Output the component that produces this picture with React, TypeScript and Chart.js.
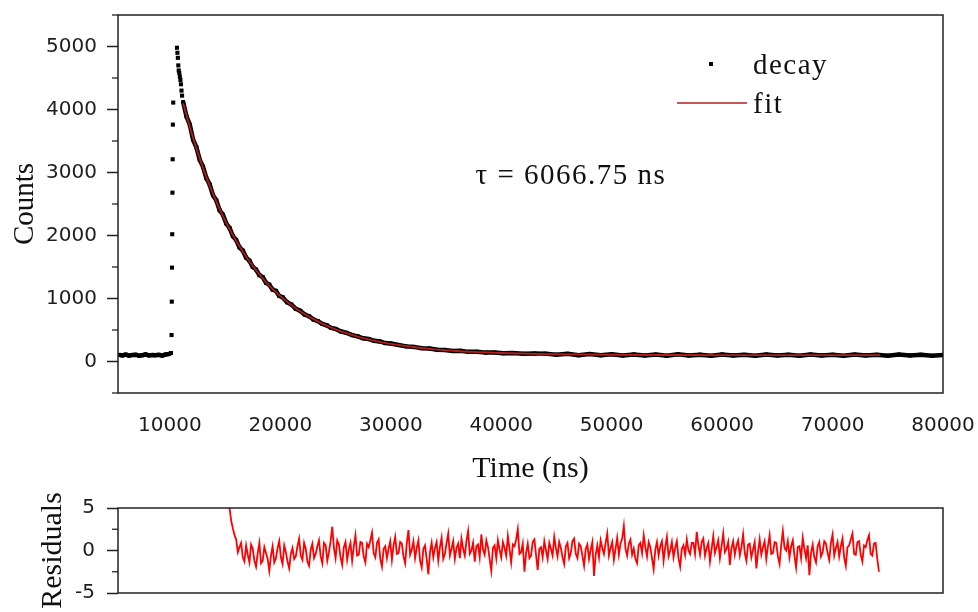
import React, { useEffect, useRef } from 'react';
import { Chart, registerables } from 'chart.js';

Chart.register(...registerables);

// ---------- axis ticks ----------
const timeTickValues = [10000, 20000, 30000, 40000, 50000, 60000, 70000, 80000];
const timeTickLabels = ['10000', '20000', '30000', '40000', '50000', '60000', '70000', '80000'];
const countTickValues = [0, 1000, 2000, 3000, 4000, 5000];
const countTickLabels = ['0', '1000', '2000', '3000', '4000', '5000'];
const countMinorTicks = [-500, 500, 1500, 2500, 3500, 4500, 5500];
const residualTickValues = [-5, 0, 5];
const residualTickLabels = ['-5', '0', '5'];
const residualMinorTicks = [-2.5, 2.5];

// ---------- decay data ----------
const baselineTime = [5400, 5700, 6000, 6300, 6600, 6900, 7200, 7500, 7800, 8100, 8400, 8700, 9000, 9300, 9600, 9900, 10100];
const baselineCounts = [105, 96, 110, 94, 102, 108, 92, 100, 112, 97, 104, 99, 106, 94, 110, 118, 135];

const riseTime = [10150, 10170, 10190, 10210, 10230, 10250, 10270, 10300, 10640, 10680, 10720, 10760, 10800, 10850, 10900, 10950, 11000, 11050, 11100];
const riseCounts = [420, 950, 1490, 2020, 2680, 3210, 3760, 4110, 4980, 4900, 4820, 4700, 4620, 4580, 4520, 4470, 4400, 4300, 4220];

const decayTime = [
  11200, 11500, 11800, 12100, 12400, 12700, 13000, 13300, 13600, 13900,
  14200, 14500, 14800, 15100, 15400, 15700, 16000, 16300, 16600, 16900,
  17200, 17500, 17800, 18100, 18400, 18700, 19000, 19300, 19600, 19900,
  20200, 20600, 21000, 21400, 21800, 22200, 22600, 23000, 23400, 23800,
  24200, 24600, 25000, 25500, 26000, 26500, 27000, 27500, 28000, 28500,
  29000, 29500, 30000, 30700, 31400, 32100, 32800, 33500, 34200, 34900,
  35600, 36300, 37000, 37800, 38600, 39400, 40200, 41000, 42000, 43000,
  44000, 45000, 46000, 47000, 48000, 49000, 50000, 51000, 52000, 53000,
  54000, 55000, 56000, 57000, 58000, 59000, 60000, 61000, 62000, 63000,
  64000, 65000, 66000, 67000, 68000, 69000, 70000, 71000, 72000, 73000,
  74000, 75000, 76000, 77000, 78000, 79000, 80000,
];
const decayCounts = [
  4120, 3890, 3760, 3520, 3400, 3200, 3090, 2910, 2810, 2640,
  2560, 2400, 2330, 2190, 2120, 1990, 1930, 1810, 1760, 1650,
  1600, 1500, 1460, 1370, 1340, 1250, 1220, 1140, 1120, 1040,
  1020, 940, 905, 835, 805, 745, 718, 665, 640, 595,
  575, 532, 518, 476, 455, 418, 400, 368, 357, 328,
  318, 292, 285, 262, 240, 232, 212, 206, 186, 184,
  168, 169, 153, 154, 141, 143, 130, 133, 122, 126,
  125, 108, 122, 100, 118, 98, 115, 94, 112, 96,
  110, 92, 113, 95, 108, 90, 112, 97, 106, 91,
  111, 96, 108, 92, 112, 95, 107, 90, 110, 97,
  106, 93, 111, 96, 108, 92, 105,
];

// ---------- fit curve ----------
const fitTime = [11200, 11600, 12200, 12800, 13400, 14000, 14600, 15200, 16100, 17000, 18000, 19000, 20000, 21000, 22000, 23000, 24000, 25000, 26000, 27000, 28000, 29000, 30000, 32000, 34000, 36000, 38000, 40000, 43000, 46000, 50000, 55000, 60000, 67000, 74300];
const fitCounts = [4100, 3845, 3492, 3173, 2883, 2621, 2384, 2169, 1884, 1638, 1404, 1206, 1038, 895, 774, 672, 585, 511, 449, 396, 351, 313, 280, 230, 193, 167, 148, 135, 121, 113, 107, 103, 101, 100, 100];

// ---------- residuals ----------
const residualTime = [
  15400, 15550, 15700, 15850, 16000, 16150, 16300, 16450, 16600, 16750, 16900, 17050, 17200, 17350, 17500, 17650, 17800, 17950, 18100, 18250,
  18400, 18550, 18700, 18850, 19000, 19150, 19300, 19450, 19600, 19750, 19900, 20050, 20200, 20350, 20500, 20650, 20800, 20950, 21100, 21250,
  21400, 21550, 21700, 21850, 22000, 22150, 22300, 22450, 22600, 22750, 22900, 23050, 23200, 23350, 23500, 23650, 23800, 23950, 24100, 24250,
  24400, 24550, 24700, 24850, 25000, 25150, 25300, 25450, 25600, 25750, 25900, 26050, 26200, 26350, 26500, 26650, 26800, 26950, 27100, 27250,
  27400, 27550, 27700, 27850, 28000, 28150, 28300, 28450, 28600, 28750, 28900, 29050, 29200, 29350, 29500, 29650, 29800, 29950, 30100, 30250,
  30400, 30550, 30700, 30850, 31000, 31150, 31300, 31450, 31600, 31750, 31900, 32050, 32200, 32350, 32500, 32650, 32800, 32950, 33100, 33250,
  33400, 33550, 33700, 33850, 34000, 34150, 34300, 34450, 34600, 34750, 34900, 35050, 35200, 35350, 35500, 35650, 35800, 35950, 36100, 36250,
  36400, 36550, 36700, 36850, 37000, 37150, 37300, 37450, 37600, 37750, 37900, 38050, 38200, 38350, 38500, 38650, 38800, 38950, 39100, 39250,
  39400, 39550, 39700, 39850, 40000, 40150, 40300, 40450, 40600, 40750, 40900, 41050, 41200, 41350, 41500, 41650, 41800, 41950, 42100, 42250,
  42400, 42550, 42700, 42850, 43000, 43150, 43300, 43450, 43600, 43750, 43900, 44050, 44200, 44350, 44500, 44650, 44800, 44950, 45100, 45250,
  45400, 45550, 45700, 45850, 46000, 46150, 46300, 46450, 46600, 46750, 46900, 47050, 47200, 47350, 47500, 47650, 47800, 47950, 48100, 48250,
  48400, 48550, 48700, 48850, 49000, 49150, 49300, 49450, 49600, 49750, 49900, 50050, 50200, 50350, 50500, 50650, 50800, 50950, 51100, 51250,
  51400, 51550, 51700, 51850, 52000, 52150, 52300, 52450, 52600, 52750, 52900, 53050, 53200, 53350, 53500, 53650, 53800, 53950, 54100, 54250,
  54400, 54550, 54700, 54850, 55000, 55150, 55300, 55450, 55600, 55750, 55900, 56050, 56200, 56350, 56500, 56650, 56800, 56950, 57100, 57250,
  57400, 57550, 57700, 57850, 58000, 58150, 58300, 58450, 58600, 58750, 58900, 59050, 59200, 59350, 59500, 59650, 59800, 59950, 60100, 60250,
  60400, 60550, 60700, 60850, 61000, 61150, 61300, 61450, 61600, 61750, 61900, 62050, 62200, 62350, 62500, 62650, 62800, 62950, 63100, 63250,
  63400, 63550, 63700, 63850, 64000, 64150, 64300, 64450, 64600, 64750, 64900, 65050, 65200, 65350, 65500, 65650, 65800, 65950, 66100, 66250,
  66400, 66550, 66700, 66850, 67000, 67150, 67300, 67450, 67600, 67750, 67900, 68050, 68200, 68350, 68500, 68650, 68800, 68950, 69100, 69250,
  69400, 69550, 69700, 69850, 70000, 70150, 70300, 70450, 70600, 70750, 70900, 71050, 71200, 71350, 71500, 71650, 71800, 71950, 72100, 72250,
  72400, 72550, 72700, 72850, 73000, 73150, 73300, 73450, 73600, 73750, 73900, 74050, 74200,
];
const residualValues = [
  5.0, 3.5, 2.6, 1.8, 1.3, -0.2, 0.4, 0.9, -0.8, -1.3, 0.6, -0.5, -1.4, 0.7, 0.2, -1.2, -1.9, -0.3, 0.9, -1.5,
  -1.2, 0.4, -0.3, -1.0, -2.4, -0.6, 0.5, -1.4, -0.9, 0.3, 1.1, -0.8, -1.6, 0.6, -0.2, -1.3, -2.1, -0.4, 0.3, -1.0,
  -0.7, 0.5, 1.4, -0.6, -1.1, 0.9, 0.2, -1.3, -1.8, 0.1, 0.8, -0.9, -0.4, 0.5, 1.2, -0.7, -1.5, 0.9, 0.6, -1.2,
  -0.2, 1.1, 2.8, 0.3, -0.9, 1.2, 0.7, -0.8, -1.7, 0.4, 1.0, -1.1, 0.1, 0.9, -1.2, 0.5, 1.8, -0.6, -0.5, 1.0,
  0.9, -0.7, -1.4, 0.8, 0.4, 1.2, 2.1, -0.3, -0.8, 0.9, 1.3, -1.0, -1.9, 0.2, 0.5, -0.9, 0.2, 1.1, -1.1, 0.6,
  1.6, -0.4, -0.3, 1.0, 0.8, -0.7, -1.5, 0.9, 2.4, -0.5, 0.1, 1.1, -0.9, 0.3, 1.2, -1.2, -2.0, 0.2, 0.6, -1.0,
  -2.8, -0.2, 0.9, -0.8, 0.3, 1.0, -1.2, 0.4, 1.5, -1.0, -0.4, 0.9, 2.0, -0.6, 0.2, 1.1, -1.0, 0.3, 0.8, -0.9,
  1.4, 0.2, -0.6, 1.1, 2.3, -0.4, 0.0, 0.9, -1.3, 0.5, 0.7, -0.8, 1.9, 0.1, -0.5, 1.2, 0.4, -1.0, -2.4, 0.3,
  0.6, -0.9, 1.2, 0.1, -0.8, 1.0, 0.3, -0.6, 1.7, 0.2, -1.4, 0.7, 0.5, 1.3, 2.5, -0.4, -0.2, 0.8, -2.5, -0.3,
  0.8, -0.9, -0.6, 1.0, 1.3, -0.5, -2.3, 0.2, 0.4, -0.8, 1.1, 0.0, -1.0, 0.9, 0.2, -0.6, 1.6, 0.3, -0.7, 1.0,
  0.3, -0.8, -1.6, 0.5, 0.9, -0.9, -0.3, 1.1, 1.4, -0.4, -0.9, 0.8, 0.5, -0.6, -1.8, 0.2, 0.7, -1.0, 0.1, 1.0,
  -3.0, -0.5, 0.6, -0.8, 1.2, 0.3, -0.4, 0.9, 2.0, -0.6, 0.3, 1.0, -1.1, 0.2, 1.5, -0.5, 0.8, 1.4, 2.9, 0.2,
  -0.6, 0.8, 1.3, -0.5, 0.2, -1.0, -1.5, 0.6, 0.9, -0.3, 1.8, 0.4, -0.7, 1.0, 0.4, -0.9, -2.2, 0.1, 1.0, -0.6,
  0.5, 1.1, -1.2, 0.4, 1.6, -0.7, 0.0, 1.0, -0.8, 0.3, 1.1, -0.9, -1.9, 0.2, 0.6, -0.5, 1.3, 0.0, -0.4, 0.9,
  0.9, -0.4, 2.2, 0.6, -0.5, 1.0, 1.4, -0.6, 0.3, 0.9, -1.3, 0.2, 1.7, -0.3, 0.4, 1.2, -0.9, 0.5, 2.0, -0.2,
  0.2, 1.0, -1.7, 0.3, 1.1, -0.5, 0.6, 1.2, -0.6, 0.4, 1.9, -0.3, -1.2, 0.7, 0.8, -0.8, 0.1, 1.0, -2.1, -0.2,
  1.3, -0.5, 0.4, 1.1, -1.0, 0.5, 1.8, -0.4, -0.3, 1.0, 0.9, -0.7, -1.6, 0.6, 2.3, 0.3, 0.0, 1.1, -0.8, 0.5,
  1.2, -0.6, -2.0, 0.4, 0.5, -0.9, 1.5, 0.2, -0.9, 0.6, -2.9, -0.3, 0.7, -0.8, -1.4, 0.5, 1.0, -0.7, -0.2, 1.1,
  0.8, -0.3, -1.1, 0.9, 1.9, -0.6, 0.3, 1.0, -0.7, 0.5, 1.4, -0.8, -1.8, 0.4, 0.6, 1.3, 2.0, -0.4, -0.5, 1.0,
  1.1, -0.5, -1.3, 0.6, 0.4, 1.2, 1.8, -0.4, -0.6, 0.8, 0.9, -1.0, -2.5,
];

const lifetimeLabel = 'τ = 6066.75 ns';
const legendDecay = 'decay';
const legendFit = 'fit';

const FIT_COLOR = '#b01e1e';
const RES_COLOR = '#ff0000';
const INK = '#222';
const SERIF = '"Liberation Serif", "Times New Roman", serif';
const SANS = '"DejaVu Sans", Verdana, sans-serif';

const pts = (xs: number[], ys: number[]) => xs.map((x, i) => ({ x, y: ys[i] }));

const labelFor = (values: number[], labels: string[]) => (v: any) => {
  const i = values.indexOf(Number(v));
  return i >= 0 ? labels[i] : '';
};

const framePlugin = (id: string, minor: number[]) => ({
  id,
  afterDatasetsDraw(chart: any) {
    const { ctx, chartArea: a, scales } = chart;
    ctx.save();
    ctx.strokeStyle = INK;
    ctx.lineWidth = 1.5;
    ctx.strokeRect(a.left, a.top, a.right - a.left, a.bottom - a.top);
    ctx.lineWidth = 1.3;
    minor.forEach((v) => {
      const y = scales.y.getPixelForValue(v);
      ctx.beginPath();
      ctx.moveTo(a.left - 6, y);
      ctx.lineTo(a.left, y);
      ctx.stroke();
    });
    ctx.restore();
  },
});

const annotationPlugin = {
  id: 'annotations',
  afterDraw(chart: any) {
    const { ctx, chartArea: a } = chart;
    ctx.save();
    ctx.font = `29px ${SERIF}`;
    ctx.fillStyle = '#111';
    ctx.textBaseline = 'middle';
    ctx.textAlign = 'center';
    try { (ctx as any).letterSpacing = '1.5px'; } catch (e) { /* ignore */ }
    ctx.fillText(lifetimeLabel, a.left + 453, a.top + 161);
    ctx.textAlign = 'left';
    // legend
    ctx.fillStyle = '#000';
    ctx.fillRect(a.left + 591, a.top + 47, 4, 4);
    ctx.strokeStyle = FIT_COLOR;
    ctx.lineWidth = 1.5;
    ctx.beginPath();
    ctx.moveTo(a.left + 559, a.top + 88);
    ctx.lineTo(a.left + 629, a.top + 88);
    ctx.stroke();
    ctx.fillStyle = '#111';
    ctx.fillText(legendDecay, a.left + 635, a.top + 51);
    ctx.fillText(legendFit, a.left + 635, a.top + 90);
    try { (ctx as any).letterSpacing = '0px'; } catch (e) { /* ignore */ }
    ctx.restore();
  },
};

export default function App() {
  const mainRef = useRef<HTMLCanvasElement>(null);
  const resRef = useRef<HTMLCanvasElement>(null);

  useEffect(() => {
    const bandStyle = {
      showLine: true,
      borderColor: '#000',
      borderWidth: 4.5,
      pointStyle: 'rect',
      pointRadius: 2.8,
      pointBorderWidth: 0,
      backgroundColor: '#000',
    };
    const main = new Chart(mainRef.current as HTMLCanvasElement, {
      type: 'scatter',
      data: {
        datasets: [
          {
            label: legendFit,
            data: pts(fitTime, fitCounts),
            showLine: true,
            borderColor: FIT_COLOR,
            borderWidth: 1.8,
            pointRadius: 0,
            cubicInterpolationMode: 'monotone',
          } as any,
          {
            label: legendDecay,
            data: pts(riseTime, riseCounts),
            showLine: false,
            pointStyle: 'rect',
            pointRadius: 2.9,
            pointBorderWidth: 0,
            backgroundColor: '#000',
          } as any,
          { label: legendDecay, data: pts(decayTime, decayCounts), ...bandStyle } as any,
          { label: legendDecay, data: pts(baselineTime, baselineCounts), ...bandStyle } as any,
        ],
      },
      options: {
        responsive: false,
        animation: false,
        events: [],
        layout: { padding: { left: 0, right: 35, top: 15, bottom: 0 } },
        plugins: { legend: { display: false }, tooltip: { enabled: false } },
        scales: {
          x: {
            type: 'linear',
            min: 5300,
            max: 80000,
            grid: { display: false, drawTicks: false },
            border: { display: false },
            afterBuildTicks: (s: any) => { s.ticks = timeTickValues.map((value) => ({ value })); },
            afterFit: (s: any) => { s.height = 102; s.paddingLeft = 0; s.paddingRight = 0; },
            ticks: {
              autoSkip: false,
              maxRotation: 0,
              minRotation: 0,
              padding: 21,
              color: '#1e1e1e',
              font: { family: SANS, size: 20 },
              callback: labelFor(timeTickValues, timeTickLabels),
            },
            title: {
              display: true,
              text: 'Time (ns)',
              color: '#111',
              font: { family: SERIF, size: 30 },
              padding: { top: 0, bottom: 8 },
            },
          },
          y: {
            type: 'linear',
            min: -500,
            max: 5500,
            grid: { display: true, drawOnChartArea: false, drawTicks: true, tickLength: 11, tickColor: INK, tickWidth: 1.5 },
            border: { display: false },
            afterBuildTicks: (s: any) => { s.ticks = countTickValues.map((value) => ({ value })); },
            afterFit: (s: any) => { s.width = 118; s.paddingTop = 0; s.paddingBottom = 0; },
            ticks: {
              padding: 10,
              color: '#1e1e1e',
              font: { family: SANS, size: 20 },
              callback: labelFor(countTickValues, countTickLabels),
            },
            title: {
              display: true,
              text: 'Counts',
              color: '#111',
              font: { family: SERIF, size: 29 },
              padding: { top: 8, bottom: 0 },
            },
          },
        },
      } as any,
      plugins: [framePlugin('frameMain', countMinorTicks), annotationPlugin],
    });

    const res = new Chart(resRef.current as HTMLCanvasElement, {
      type: 'scatter',
      data: {
        datasets: [
          {
            label: 'Residuals',
            data: pts(residualTime, residualValues),
            showLine: true,
            borderColor: RES_COLOR,
            borderWidth: 1.8,
            pointRadius: 0,
          } as any,
        ],
      },
      options: {
        responsive: false,
        animation: false,
        events: [],
        layout: { padding: { left: 0, right: 35, top: 28, bottom: 19 } },
        plugins: { legend: { display: false }, tooltip: { enabled: false } },
        scales: {
          x: { type: 'linear', min: 5300, max: 80000, display: false },
          y: {
            type: 'linear',
            min: -5,
            max: 5,
            grid: { display: true, drawOnChartArea: false, drawTicks: true, tickLength: 11, tickColor: INK, tickWidth: 1.5 },
            border: { display: false },
            afterBuildTicks: (s: any) => { s.ticks = residualTickValues.map((value) => ({ value })); },
            afterFit: (s: any) => { s.width = 118; s.paddingTop = 0; s.paddingBottom = 0; },
            ticks: {
              padding: 12,
              color: '#1e1e1e',
              font: { family: SANS, size: 20 },
              callback: labelFor(residualTickValues, residualTickLabels),
            },
            title: {
              display: true,
              text: 'Residuals',
              color: '#111',
              font: { family: SERIF, size: 30 },
              padding: { top: 35, bottom: 0 },
            },
          },
        },
      } as any,
      plugins: [framePlugin('frameRes', residualMinorTicks)],
    });

    return () => {
      main.destroy();
      res.destroy();
    };
  }, []);

  return (
    <div style={{ position: 'absolute', left: 0, top: 0, width: 978, height: 612, background: '#fff', overflow: 'hidden' }}>
      <canvas ref={mainRef} width={978} height={495} style={{ position: 'absolute', left: 0, top: 0 }} />
      <canvas ref={resRef} width={978} height={132} style={{ position: 'absolute', left: 0, top: 480 }} />
    </div>
  );
}
